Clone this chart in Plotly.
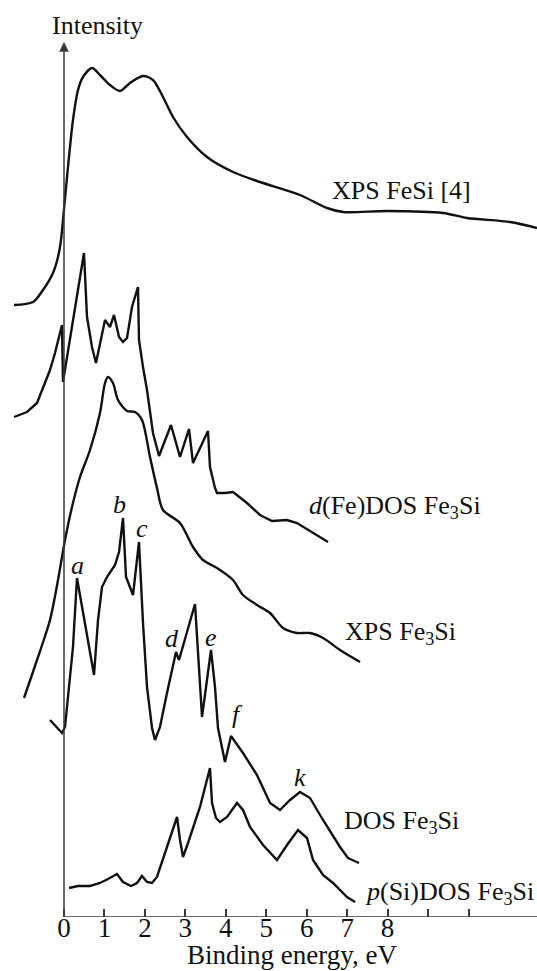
import plotly.graph_objects as go

# Binding energy (eV) and intensity (arb. units) for each spectrum
xps_fesi_e = [-1.236, -0.766, -0.519, -0.272, -0.148, -0.074, -0.025, 0.099, 0.222, 0.346, 0.470,
              0.692, 0.890, 1.137, 1.384, 1.632, 1.953, 2.200, 2.447, 2.695, 3.041, 3.535, 4.178,
              4.845, 5.834, 6.502, 6.897, 7.985, 9.370, 9.963, 11.026, 11.693]
xps_fesi_i = [61.2, 61.5, 62.7, 64.4, 66.0, 67.7, 69.7, 75.0, 79.7, 82.7, 84.0,
              84.9, 84.2, 83.2, 82.6, 83.4, 84.1, 83.7, 82.0, 80.0, 78.0, 76.0, 74.5,
              73.5, 72.2, 70.9, 70.5, 70.6, 70.4, 69.9, 69.5, 68.9]

dfe_dos_e = [-1.236, -0.915, -0.667, -0.519, -0.346, -0.222, -0.049, -0.025, 0.074, 0.494, 0.569,
             0.692, 0.791, 0.890, 1.014, 1.137, 1.236, 1.360, 1.459, 1.558, 1.681, 1.829, 1.854,
             1.953, 2.052, 2.200, 2.349, 2.645, 2.868, 3.090, 3.189, 3.560, 3.609, 3.733, 3.782,
             3.980, 4.178, 4.524, 4.845, 5.142, 5.513, 5.760, 6.527]
dfe_dos_i = [50.0, 50.5, 51.4, 53.0, 54.7, 56.4, 59.2, 53.5, 56.0, 66.4, 60.0,
             57.0, 55.4, 57.4, 59.7, 59.0, 60.2, 58.0, 57.5, 57.9, 61.0, 63.0, 57.7,
             55.0, 52.7, 48.4, 46.1, 49.2, 46.0, 48.8, 45.4, 48.6, 45.0, 42.9, 42.4,
             42.4, 42.5, 41.4, 40.2, 39.6, 39.7, 39.4, 37.5]

xps_fe3si_e = [-0.989, -0.667, -0.346, -0.148, 0.025, 0.198, 0.396, 0.643, 0.890, 1.014, 1.088,
               1.211, 1.335, 1.558, 1.755, 1.928, 2.126, 2.299, 2.447, 2.868, 3.189, 3.436,
               3.782, 4.178, 4.425, 4.771, 5.093, 5.414, 5.760, 6.082, 6.403, 6.823, 7.318]
xps_fe3si_i = [21.9, 25.7, 29.7, 33.7, 37.7, 41.0, 44.0, 46.7, 50.4, 53.4, 54.0,
               53.4, 51.7, 50.6, 50.5, 49.7, 46.0, 42.9, 40.7, 39.4, 37.0, 35.7,
               34.9, 33.7, 32.2, 31.2, 30.4, 28.9, 28.4, 28.4, 27.9, 26.7, 25.5]

dos_e = [-0.346, -0.173, -0.049, 0.025, 0.099, 0.222, 0.321, 0.470, 0.618, 0.742, 0.841,
         0.939, 1.063, 1.261, 1.360, 1.459, 1.533, 1.706, 1.854, 1.953, 2.052, 2.176, 2.250,
         2.373, 2.546, 2.769, 2.843, 3.239, 3.412, 3.634, 3.733, 3.807, 3.980, 4.129, 4.425,
         4.771, 5.093, 5.340, 5.587, 5.834, 6.082, 6.403, 6.823, 7.021, 7.293]
dos_i = [19.7, 18.9, 18.4, 19.0, 22.0, 27.0, 33.9, 30.4, 27.0, 24.2, 29.7,
         33.0, 34.0, 35.2, 36.5, 39.9, 34.0, 32.2, 37.5, 29.4, 23.0, 18.9, 17.7,
         19.0, 22.4, 26.5, 25.7, 31.3, 20.0, 26.7, 23.0, 18.9, 15.5, 18.1, 16.4,
         14.2, 11.4, 10.7, 11.7, 12.5, 11.9, 9.7, 7.0, 5.9, 5.4]

psi_dos_e = [0.124, 0.346, 0.643, 0.890, 1.088, 1.310, 1.459, 1.656, 1.805, 1.928, 2.052,
             2.176, 2.299, 2.546, 2.794, 2.868, 2.942, 3.066, 3.362, 3.609, 3.659, 3.758,
             3.857, 4.030, 4.277, 4.425, 4.598, 4.920, 5.266, 5.513, 5.785, 6.007, 6.156,
             6.403, 6.650, 6.996, 7.194]
psi_dos_i = [2.9, 3.1, 3.1, 3.4, 3.8, 4.3, 3.5, 3.1, 3.4, 4.1, 3.5,
             3.4, 4.0, 7.0, 10.0, 7.7, 6.0, 7.4, 11.0, 14.9, 11.4, 9.9,
             9.5, 10.0, 11.4, 10.7, 9.0, 7.2, 5.7, 7.2, 8.7, 7.9, 5.7,
             4.2, 3.4, 2.0, 1.5]

# Curve labels: text, energy, intensity
curve_labels = ["XPS FeSi [4]", "<i>d</i>(Fe)DOS Fe<sub>3</sub>Si", "XPS Fe<sub>3</sub>Si",
                "DOS Fe<sub>3</sub>Si", "<i>p</i>(Si)DOS Fe<sub>3</sub>Si"]
curve_label_e = [6.576, 6.007, 6.897, 6.873, 7.392]
curve_label_i = [72.7, 41.0, 28.4, 9.5, 2.4]

# Peak markers on the DOS Fe3Si curve
peak_names = ["a", "b", "c", "d", "e", "f", "k"]
peak_e = [0.346, 1.360, 1.928, 2.670, 3.634, 4.277, 5.834]
peak_i = [35.2, 41.3, 38.9, 27.9, 28.0, 20.3, 14.0]

# Labelled energy ticks and the extra unlabelled ones further right
tick_vals = [0, 1, 2, 3, 4, 5, 6, 7, 8]
minor_tick_vals = [9, 10]

INK = "#111111"
AXIS = "#3a3a3a"
FONT = "Times New Roman, Liberation Serif, serif"
FS = 26

fig = go.Figure()

curves = [
    (xps_fesi_e, xps_fesi_i, "spline"),
    (dfe_dos_e, dfe_dos_i, "linear"),
    (xps_fe3si_e, xps_fe3si_i, "spline"),
    (dos_e, dos_i, "linear"),
    (psi_dos_e, psi_dos_i, "linear"),
]
for xs, ys, shape in curves:
    fig.add_trace(go.Scatter(
        x=xs, y=ys, mode="lines",
        line=dict(color=INK, width=2.4, shape=shape, smoothing=0.8),
        hoverinfo="skip", showlegend=False,
    ))

for txt, xe, yi in zip(curve_labels, curve_label_e, curve_label_i):
    fig.add_annotation(x=xe, y=yi, text=txt, showarrow=False, xanchor="left", yanchor="middle",
                       font=dict(family=FONT, size=FS, color=INK))

for txt, xe, yi in zip(peak_names, peak_e, peak_i):
    fig.add_annotation(x=xe, y=yi, text=f"<i>{txt}</i>", showarrow=False,
                       xanchor="center", yanchor="middle",
                       font=dict(family=FONT, size=FS, color=INK))

# Horizontal energy axis line starting at 0 eV
fig.add_shape(type="line", x0=0, x1=11.7, y0=0, y1=0, xref="x", yref="y",
              line=dict(color=AXIS, width=1.6))

# Vertical intensity axis with arrowhead
fig.add_annotation(x=0, y=87.5, ax=0, ay=0, axref="x", ayref="y", xref="x", yref="y",
                   text="", showarrow=True, arrowhead=2, arrowsize=1.3, arrowwidth=1.5,
                   arrowcolor=AXIS)
fig.add_annotation(x=0.84, y=89.2, text="Intensity", showarrow=False,
                   xanchor="center", yanchor="middle",
                   font=dict(family=FONT, size=FS, color=INK))

# Axis title anchored to the bottom edge, below the tick labels
fig.add_annotation(x=5.64, y=-0.0585, xref="x", yref="paper", text="Binding energy, eV",
                   showarrow=False, xanchor="center", yanchor="bottom", borderpad=0,
                   font=dict(family=FONT, size=27, color=INK))

fig.update_layout(
    width=537, height=971,
    margin=dict(l=0, r=0, t=0, b=54),
    paper_bgcolor="white", plot_bgcolor="white",
    xaxis=dict(range=[-1.582, 11.693], tickmode="array", tickvals=tick_vals,
               ticks="inside", ticklen=8, tickwidth=1.5, tickcolor=AXIS,
               ticklabelstandoff=-8,
               minor=dict(tickmode="array", tickvals=minor_tick_vals, ticks="inside",
                          ticklen=8, tickwidth=1.5, tickcolor=AXIS, showgrid=False),
               showgrid=False, zeroline=False, showline=False,
               tickfont=dict(family=FONT, size=27, color=INK)),
    yaxis=dict(range=[0, 91.7], visible=False),
)

fig.write_html("out.html", config={"displayModeBar": False})
